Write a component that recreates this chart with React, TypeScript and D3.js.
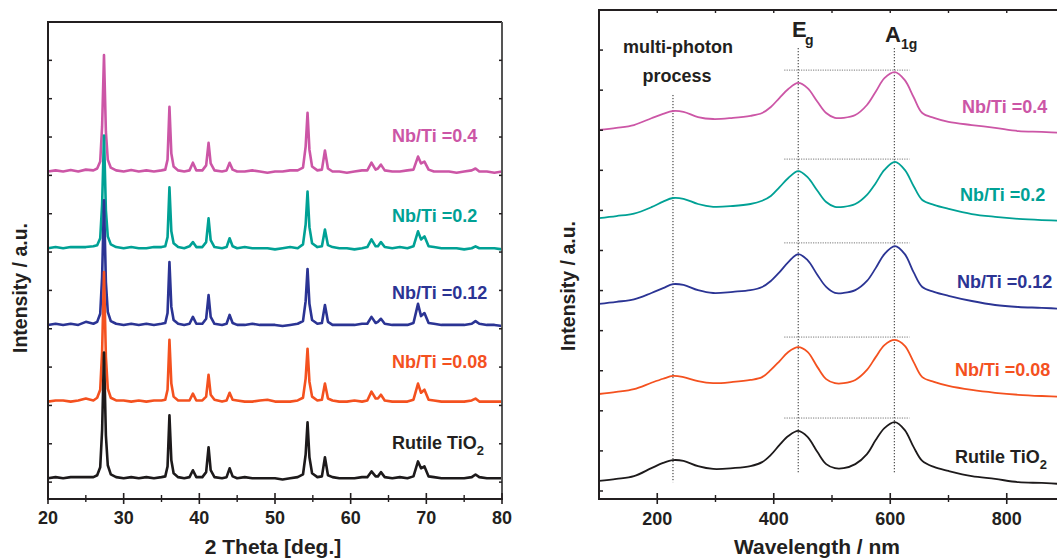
import React from 'react';
import * as d3 from 'd3';

// ---------- XRD (left panel) ----------
const twoTheta = [
  20, 21, 22, 23, 24, 25, 26, 26.5, 26.9, 27.15,
  27.4, 27.65, 27.9, 28.3, 29, 30, 31, 32, 33, 34,
  35, 35.5, 35.8, 36.05, 36.3, 36.6, 37.2, 38, 38.7, 39.15,
  39.6, 40.4, 40.9, 41.22, 41.5, 42, 43, 43.6, 44.0, 44.4,
  45, 46, 47, 48, 49, 50, 51, 52, 53, 53.7,
  54.05, 54.3, 54.55, 54.9, 55.6, 56.2, 56.6, 57.0, 57.6, 58.5,
  59.5, 60.5, 61.5, 62.2, 62.75, 63.3, 63.6, 64.0, 64.5, 65.5,
  66.5, 67.5, 68.3, 68.9, 69.3, 69.75, 70.3, 71, 72, 73,
  74, 75, 76, 76.5, 77, 78, 79, 80,
];

const xrdRutile = [
  0, 3, 0, 3, 3, 3, 3, 8, 29, 125,
  328, 112, 34, 10, 3, 0, 3, 0, 3, 0,
  3, 5, 31, 164, 47, 13, 3, 0, 3, 21,
  3, 3, 16, 81, 21, 3, 0, 3, 26, 5,
  0, 3, 0, 0, 0, 0, -3, 0, 3, 10,
  62, 146, 55, 13, 3, 5, 55, 8, 3, 0,
  0, 0, 3, 3, 18, 5, 5, 16, 3, 0,
  3, 0, 5, 44, 26, 31, 5, 3, 0, 0,
  0, 0, 3, 10, 3, 0, 0, 0,
];
const xrdNb008 = [
  0, 3, 3, 0, 3, 8, 3, 10, 31, 130,
  338, 117, 34, 10, 3, 3, 0, 3, 0, 3,
  3, 5, 31, 161, 47, 13, 3, 3, 3, 21,
  3, 3, 13, 70, 18, 5, 0, 3, 23, 5,
  3, 0, 0, 3, 5, 0, 0, 0, 3, 10,
  60, 138, 52, 13, 3, 5, 47, 8, 3, 0,
  0, 3, 0, 3, 26, 8, 8, 18, 3, 0,
  0, 0, 5, 47, 23, 31, 5, 3, 0, 0,
  0, 0, 3, 8, 0, 0, 0, 0,
];
const xrdNb012 = [
  0, 3, 0, 3, 0, 8, 3, 8, 29, 125,
  325, 112, 34, 10, 3, 0, 3, 0, 3, 0,
  3, 5, 31, 164, 47, 13, 3, 0, 3, 21,
  3, 3, 16, 78, 21, 3, 0, 3, 26, 5,
  0, 0, 3, 0, 0, 0, -3, 0, 3, 10,
  62, 146, 55, 13, 3, 5, 52, 8, 0, 0,
  0, 0, 3, 3, 21, 5, 8, 16, 3, 0,
  0, 0, 5, 55, 23, 31, 5, 3, 0, 0,
  0, 0, 3, 10, 3, 0, 0, -3,
];
const xrdNb02 = [
  0, 3, 0, 3, 3, 3, 5, 8, 26, 114,
  294, 99, 31, 10, 3, 0, 3, 0, 0, 3,
  3, 5, 29, 159, 44, 13, 3, 0, 5, 16,
  3, 3, 16, 78, 21, 3, 0, 3, 26, 5,
  0, 3, 0, 0, 0, -3, 0, 3, 0, 10,
  62, 148, 55, 13, 3, 5, 49, 8, 3, 0,
  0, -3, 0, 3, 23, 5, 5, 16, 3, 0,
  3, 0, 5, 44, 23, 31, 5, 3, 0, 0,
  0, -3, 0, 5, 0, 0, 0, -3,
];
const xrdNb04 = [
  0, 3, 0, 4, 0, 5, 3, 8, 26, 117,
  304, 104, 31, 10, 3, 0, 4, 0, 3, 0,
  3, 5, 31, 169, 47, 13, 3, 0, 3, 23,
  3, 3, 16, 75, 21, 3, 0, 3, 23, 5,
  0, 0, 3, 0, -3, 0, 0, 3, 3, 10,
  65, 153, 57, 13, 3, 5, 55, 8, 0, 0,
  -3, 0, 3, 3, 23, 5, 8, 18, 3, 0,
  0, 3, 5, 39, 21, 26, 5, 0, 0, 0,
  -3, 0, 3, 8, 0, 0, -3, 0,
];
const xrdOffsets = [10, 210, 410, 610, 810];

const xTicksLeft = [20, 30, 40, 50, 60, 70, 80];
const xMinorLeft = [25, 35, 45, 55, 65, 75];
const yTicksLeft = [0, 100, 200, 300, 400, 500, 600, 700, 800, 900, 1000, 1100];

// ---------- Raman (right panel) ----------
const wavelength = [
  100, 130, 160, 190, 210, 227, 245, 270, 296, 330,
  360, 380, 395, 410, 425, 442, 458, 475, 490, 505,
  520, 540, 560, 575, 590, 608, 625, 640, 655, 675,
  700, 740, 780, 820, 860, 900,
];
const ramanRutile = [
  25, 30, 37, 57, 70, 77, 75, 62, 55, 57,
  62, 72, 90, 115, 137, 150, 135, 97, 67, 57,
  57, 67, 92, 127, 157, 172, 152, 110, 75, 60,
  50, 37, 30, 22, 20, 17,
];
const ramanNb008 = [
  242, 247, 254, 270, 280, 287, 284, 274, 269, 272,
  277, 284, 302, 324, 347, 359, 347, 309, 279, 269,
  269, 277, 302, 334, 364, 377, 362, 322, 284, 272,
  262, 252, 245, 240, 237, 235,
];
const ramanNb012 = [
  467, 472, 478, 494, 506, 516, 514, 501, 494, 497,
  501, 509, 524, 546, 571, 591, 576, 539, 509, 494,
  494, 501, 524, 556, 591, 611, 591, 546, 509, 497,
  487, 474, 464, 459, 457, 454,
];
const ramanNb02 = [
  681, 686, 692, 708, 722, 731, 729, 716, 709, 711,
  716, 724, 736, 758, 781, 798, 783, 749, 721, 709,
  709, 716, 739, 768, 801, 821, 801, 761, 726, 714,
  704, 691, 684, 679, 676, 674,
];
const ramanNb04 = [
  901, 906, 913, 930, 941, 948, 946, 933, 928, 931,
  936, 943, 958, 981, 1003, 1018, 1005, 971, 943, 931,
  931, 938, 963, 996, 1030, 1045, 1025, 983, 943, 931,
  921, 913, 906, 898, 896, 893,
];
const a1gLevels = [182, 384, 619, 828, 1050];
const a1gSpan = [418, 633];
const modeLines = [
  { nm: 227, from: 22, to: 988 },
  { nm: 442, from: 45, to: 1105 },
  { nm: 607, from: 45, to: 1105 },
];

const xTicksRight = [200, 400, 600, 800];
const xMinorRight = [300, 500, 700, 900];
const yTicksRight = [0, 100, 200, 300, 400, 500, 600, 700, 800, 900, 1000, 1100];

const sampleNames = ['Rutile TiO2', 'Nb/Ti =0.08', 'Nb/Ti =0.12', 'Nb/Ti =0.2', 'Nb/Ti =0.4'];
const sampleColors = ['#1d1a1b', '#f4511f', '#2b3494', '#00a195', '#cc56a6'];

// layout (not data)
const FONT = "'Liberation Sans', Arial, Helvetica, sans-serif";
const INK = '#231f20';
const leftLabelPos = [
  [392, 449], [392, 368], [392, 299], [392, 222], [392, 142],
];
const rightLabelPos = [
  [955, 463], [955, 376], [957, 288], [960, 201], [962, 113],
];

function SampleLabel({ name, x, y, color }: { name: string; x: number; y: number; color: string }) {
  if (name.endsWith('TiO2')) {
    return (
      <text x={x} y={y} fill={INK} fontSize={18} fontWeight="bold" fontFamily={FONT}>
        {name.slice(0, -1)}
        <tspan dy={6} fontSize={13}>2</tspan>
      </text>
    );
  }
  return (
    <text x={x} y={y} fill={color} fontSize={18} fontWeight="bold" fontFamily={FONT}>
      {name}
    </text>
  );
}

export default function App() {
  const xL = d3.scaleLinear().domain([20, 80]).range([48, 502]);
  const yL = d3.scaleLinear().domain([-44, 1200]).range([499, 22]);
  const xR = d3.scaleLinear().domain([100, 900]).range([599, 1065]);
  const yR = d3.scaleLinear().domain([-20, 1200]).range([499, 10]);

  const xrd = [xrdRutile, xrdNb008, xrdNb012, xrdNb02, xrdNb04];
  const raman = [ramanRutile, ramanNb008, ramanNb012, ramanNb02, ramanNb04];

  const lineL = (vals: number[], off: number) =>
    d3.line<number>()
      .x((_, i) => xL(twoTheta[i]))
      .y((d) => yL(d + off))(vals) || '';
  const lineR = (vals: number[]) =>
    d3.line<number>()
      .x((_, i) => xR(wavelength[i]))
      .y((d) => yR(d))
      .curve(d3.curveCatmullRom.alpha(0.5))(vals) || '';

  const [l0, l1] = xL.range();
  const [lb, lt] = yL.range();
  const [r0, r1] = xR.range();
  const [rb, rt] = yR.range();

  // draw order: top sample first, black last
  const order = [4, 3, 2, 1, 0];

  return (
    <svg width={1057} height={560} style={{ position: 'absolute', left: 0, top: 0, background: '#fff' }}>
      <rect x={0} y={0} width={1057} height={560} fill="#fff" />
      {/* ===== LEFT PANEL ===== */}
      <g>
        {order.map((k) => (
          <path key={k} d={lineL(xrd[k], xrdOffsets[k])} fill="none" stroke={sampleColors[k]}
            strokeWidth={2.6} strokeLinejoin="round" />
        ))}
        {/* frame */}
        <line x1={l0} x2={l1} y1={lt} y2={lt} stroke={INK} strokeWidth={2} />
        <line x1={l1} x2={l1} y1={lt} y2={lb} stroke="#555" strokeWidth={2} />
        <line x1={l0} x2={l0} y1={lt - 1} y2={lb} stroke={INK} strokeWidth={2} />
        <line x1={l0 - 1} x2={l1 + 1} y1={lb} y2={lb} stroke={INK} strokeWidth={2} />
        {yTicksLeft.map((t) => (
          <g key={t}>
            <line x1={l0} x2={l0 + 4} y1={yL(t)} y2={yL(t)} stroke={INK} strokeWidth={1.5} />
            <line x1={l1} x2={l1 - 3} y1={yL(t)} y2={yL(t)} stroke={INK} strokeWidth={1.5} />
          </g>
        ))}
        {xTicksLeft.map((t) => (
          <g key={t}>
            <line x1={xL(t)} x2={xL(t)} y1={lb - 6} y2={lb + 5} stroke={INK} strokeWidth={1.6} />
            <text x={xL(t)} y={524} textAnchor="middle" fontSize={18} fontWeight="bold" fontFamily={FONT} fill={INK}>{t}</text>
          </g>
        ))}
        {xMinorLeft.map((t) => (
          <line key={t} x1={xL(t)} x2={xL(t)} y1={lb - 4} y2={lb + 3} stroke={INK} strokeWidth={1.4} />
        ))}
        <text x={273} y={554} textAnchor="middle" fontSize={21} fontWeight="bold" fontFamily={FONT} fill={INK}>2 Theta [deg.]</text>
        <text transform="translate(27,288) rotate(-90)" textAnchor="middle" fontSize={19.5} fontWeight="bold" fontFamily={FONT} fill={INK}>Intensity / a.u.</text>
        {sampleNames.map((n, k) => (
          <SampleLabel key={n} name={n} x={leftLabelPos[k][0]} y={leftLabelPos[k][1]} color={sampleColors[k]} />
        ))}
      </g>

      {/* ===== RIGHT PANEL ===== */}
      <g>
        {modeLines.map((m) => (
          <line key={m.nm} x1={xR(m.nm)} x2={xR(m.nm)} y1={yR(m.to)} y2={yR(m.from)} stroke="#222"
            strokeWidth={1} strokeDasharray="1.2,1.8" />
        ))}
        {a1gLevels.map((v) => (
          <line key={v} x1={xR(a1gSpan[0])} x2={xR(a1gSpan[1])} y1={yR(v)} y2={yR(v)} stroke="#777"
            strokeWidth={1} strokeDasharray="1.2,1.2" />
        ))}
        {order.map((k) => (
          <path key={k} d={lineR(raman[k])} fill="none" stroke={sampleColors[k]} strokeWidth={1.8}
            strokeLinejoin="round" />
        ))}
        <line x1={r0} x2={r1} y1={rt} y2={rt} stroke={INK} strokeWidth={2} />
        <line x1={r0} x2={r0} y1={rt - 1} y2={rb} stroke={INK} strokeWidth={2} />
        <line x1={r0 - 1} x2={r1} y1={rb} y2={rb} stroke={INK} strokeWidth={2} />
        {yTicksRight.map((t) => (
          <line key={t} x1={r0} x2={r0 + 4} y1={yR(t)} y2={yR(t)} stroke={INK} strokeWidth={1.5} />
        ))}
        {[...xTicksRight, ...xMinorRight].map((t) => (
          <line key={'top' + t} x1={xR(t)} x2={xR(t)} y1={rt} y2={rt + 3} stroke={INK} strokeWidth={1.4} />
        ))}
        {xTicksRight.map((t) => (
          <g key={t}>
            <line x1={xR(t)} x2={xR(t)} y1={rb - 6} y2={rb + 5} stroke={INK} strokeWidth={1.6} />
            <text x={xR(t)} y={525} textAnchor="middle" fontSize={18} fontWeight="bold" fontFamily={FONT} fill={INK}>{t}</text>
          </g>
        ))}
        {xMinorRight.map((t) => (
          <line key={t} x1={xR(t)} x2={xR(t)} y1={rb - 4} y2={rb + 3} stroke={INK} strokeWidth={1.4} />
        ))}
        <text x={817} y={554} textAnchor="middle" fontSize={21} fontWeight="bold" fontFamily={FONT} fill={INK}>Wavelength / nm</text>
        <text transform="translate(575,286) rotate(-90)" textAnchor="middle" fontSize={19.5} fontWeight="bold" fontFamily={FONT} fill={INK}>Intensity / a.u.</text>

        <text x={678} y={53} textAnchor="middle" fontSize={18} fontWeight="bold" fontFamily={FONT} fill={INK}>multi-photon</text>
        <text x={677} y={82} textAnchor="middle" fontSize={18} fontWeight="bold" fontFamily={FONT} fill={INK}>process</text>
        <text x={792} y={37} fontSize={22} fontWeight="bold" fontFamily={FONT} fill={INK}>E</text>
        <text x={805} y={45} fontSize={14} fontWeight="bold" fontFamily={FONT} fill={INK}>g</text>
        <text x={885} y={42} fontSize={22} fontWeight="bold" fontFamily={FONT} fill={INK}>A</text>
        <text x={901} y={49} fontSize={14} fontWeight="bold" fontFamily={FONT} fill={INK}>1g</text>

        {sampleNames.map((n, k) => (
          <SampleLabel key={n} name={n} x={rightLabelPos[k][0]} y={rightLabelPos[k][1]} color={sampleColors[k]} />
        ))}
      </g>
    </svg>
  );
}
